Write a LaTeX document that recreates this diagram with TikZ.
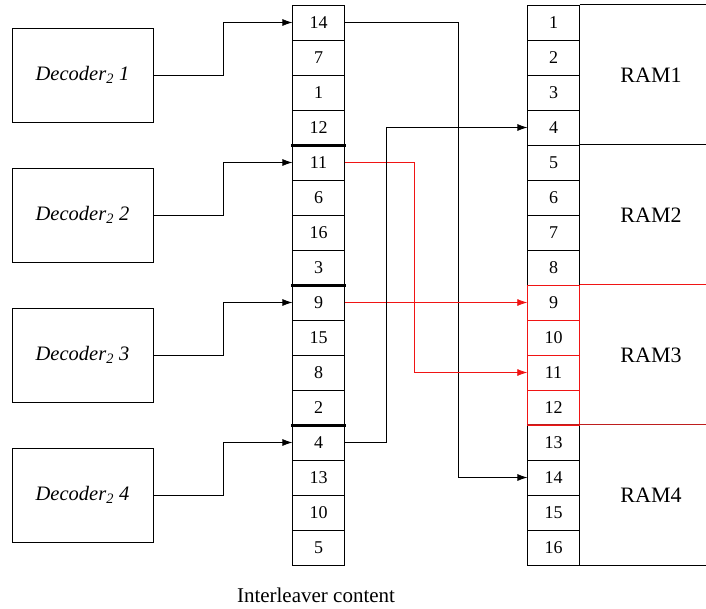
\documentclass[tikz,border=0pt]{standalone}
\usepackage{fontspec}
\setmainfont{Liberation Serif}
\usetikzlibrary{arrows.meta}
\definecolor{ramred}{RGB}{240,20,20}
\definecolor{darkred}{RGB}{190,30,30}

\begin{document}
\begin{tikzpicture}[x=1pt,y=-1pt,>={Latex[length=10pt,width=7pt]},line width=0.7pt,
  cell/.style={draw,minimum width=51.5pt,minimum height=35pt,inner sep=0pt,
    font=\fontsize{18}{20}\selectfont},
  redcell/.style={cell,draw=ramred,line width=0.9pt},
  decbox/.style={draw,minimum width=141pt,minimum height=94pt,
    font=\fontsize{20.5}{24}\selectfont\itshape},
  banklabel/.style={font=\fontsize{22}{24}\selectfont}]
  \useasboundingbox (0,0) rectangle (706,608);
  % interleaver content
  \foreach \v [count=\i] in {14,7,1,12,11,6,16,3,9,15,8,2,4,13,10,5}
    \node[cell] (il\i) at (318.5,{35*\i-12.5}) {\v};
  \foreach \i in {4,8,12}
    \draw[line width=2.7pt] ([xshift=-1.5pt]il\i.south west) -- ([xshift=1.5pt]il\i.south east);
  % memory banks
  \coordinate (rend) at (706,0);
  \foreach \i in {1,...,8,13,14,15,16}
    \node[cell] (ram\i) at (553.5,{35*\i-12.5}) {\i};
  \foreach \i in {9,...,12}
    \node[redcell] (ram\i) at (553.5,{35*\i-12.5}) {\i};
  \draw (ram1.north east) -- (ram1.north east -| rend);
  \draw (ram5.north east) -- (ram5.north east -| rend);
  \draw[ramred,line width=0.9pt] (ram9.north east) -- (ram9.north east -| rend);
  \draw[darkred,line width=0.9pt] (ram13.north west) -- (ram13.north east -| rend);
  \draw (ram16.south east) -- (ram16.south east -| rend);
  \foreach \k in {1,...,4}
    \node[banklabel] (bank\k) at (651,{140*\k-65}) {RAM\k};
  % decoders
  \foreach \k/\j in {1/1,2/5,3/9,4/13}{
    \node[decbox] (dec\k) at (82.5,{140*\k-65}) {Decoder\textsubscript{2} \k};
    \draw[->] (dec\k.east) -- ++(70,0) |- (il\j.west);
  }
  % writes into the banks
  \draw[->] (il1.east) -- ++(114,0) |- (ram14.west);
  \draw[->,ramred] (il5.east) -- ++(70,0) |- (ram11.west);
  \draw[->,ramred] (il9.east) -- (ram9.west);
  \draw[->] (il13.east) -- ++(42,0) |- (ram4.west);
  \node[font=\fontsize{21}{24}\selectfont] (caption) at (316,595) {Interleaver content};
\end{tikzpicture}
\end{document}
